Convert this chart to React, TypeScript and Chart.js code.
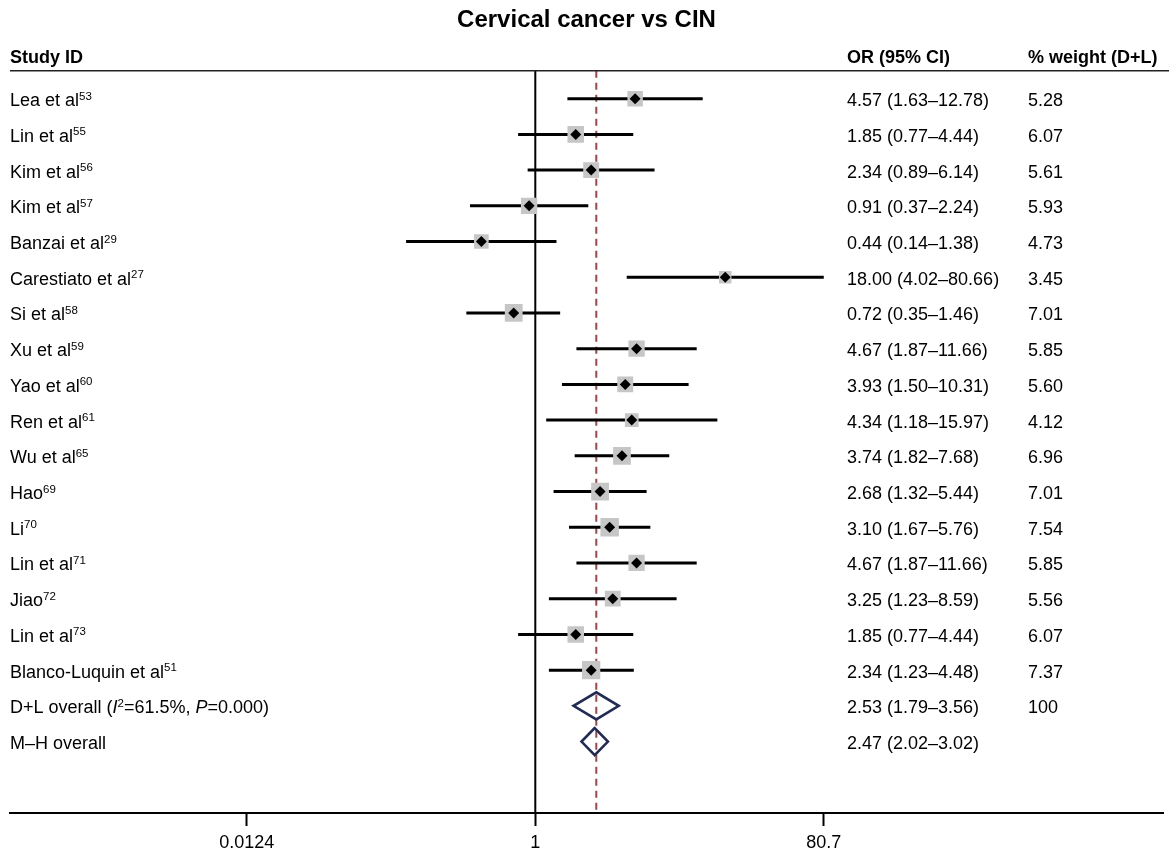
import React, { useEffect, useRef } from 'react';
import { Chart, registerables } from 'chart.js';

Chart.register(...registerables);

// ---------- data ----------
const studyNames = [
  'Lea et al', 'Lin et al', 'Kim et al', 'Kim et al', 'Banzai et al', 'Carestiato et al',
  'Si et al', 'Xu et al', 'Yao et al', 'Ren et al', 'Wu et al', 'Hao', 'Li', 'Lin et al',
  'Jiao', 'Lin et al', 'Blanco-Luquin et al',
];
const studyRefs = ['53', '55', '56', '57', '29', '27', '58', '59', '60', '61', '65', '69', '70', '71', '72', '73', '51'];
const oddsRatios = [4.57, 1.85, 2.34, 0.91, 0.44, 18.0, 0.72, 4.67, 3.93, 4.34, 3.74, 2.68, 3.1, 4.67, 3.25, 1.85, 2.34];
const ciLower = [1.63, 0.77, 0.89, 0.37, 0.14, 4.02, 0.35, 1.87, 1.5, 1.18, 1.82, 1.32, 1.67, 1.87, 1.23, 0.77, 1.23];
const ciUpper = [12.78, 4.44, 6.14, 2.24, 1.38, 80.66, 1.46, 11.66, 10.31, 15.97, 7.68, 5.44, 5.76, 11.66, 8.59, 4.44, 4.48];
const weights = [5.28, 6.07, 5.61, 5.93, 4.73, 3.45, 7.01, 5.85, 5.6, 4.12, 6.96, 7.01, 7.54, 5.85, 5.56, 6.07, 7.37];

const overallOR = [2.53, 2.47];
const overallLower = [1.79, 2.02];
const overallUpper = [3.56, 3.02];
const overallWeightText = ['100', ''];

const xTickValues = [0.0124, 1, 80.7];
const xTickLabels = ['0.0124', '1', '80.7'];
const nullValue = 1;

const titleText = 'Cervical cancer vs CIN';
const headerStudy = 'Study ID';
const headerOR = 'OR (95% CI)';
const headerWeight = '% weight (D+L)';

// ---------- layout / style constants ----------
const FONT = '"Liberation Sans", Arial, Helvetica, sans-serif';
const X_MIN = 3.373e-4;
const X_MAX = 14085;
const Y_MIN = -0.78;
const Y_MAX = 20;
const SQUARE_K = 4.75;
const DIAMOND_H = 0.38;
const COL_NAME = 10;
const COL_OR = 847;
const COL_W = 1028;

const fmt = (v: number) => v.toFixed(2);

type Part = { t: string; italic?: boolean; sup?: boolean; bold?: boolean };

function drawRich(ctx: CanvasRenderingContext2D, parts: Part[], x: number, y: number) {
  let cx = x;
  for (const p of parts) {
    const size = p.sup ? 11.5 : 18;
    ctx.font = `${p.italic ? 'italic ' : ''}${p.bold ? 'bold ' : ''}${size}px ${FONT}`;
    ctx.fillText(p.t, cx, y + (p.sup ? -6.5 : 0));
    cx += ctx.measureText(p.t).width;
  }
}

const textPlugin = {
  id: 'forestText',
  afterDraw(chart: any) {
    const { ctx, chartArea, scales } = chart;
    const y = scales.y;
    ctx.save();
    // header rule
    ctx.strokeStyle = '#222';
    ctx.lineWidth = 1.5;
    ctx.beginPath();
    ctx.moveTo(chartArea.left, chartArea.top);
    ctx.lineTo(chart.width, chartArea.top);
    ctx.stroke();

    ctx.fillStyle = '#000';
    ctx.textBaseline = 'alphabetic';
    ctx.textAlign = 'left';
    const hy = chartArea.top - 7.5;
    drawRich(ctx, [{ t: headerStudy, bold: true }], COL_NAME, hy);
    drawRich(ctx, [{ t: headerOR, bold: true }], COL_OR, hy);
    drawRich(ctx, [{ t: headerWeight, bold: true }], COL_W, hy);

    studyNames.forEach((name, i) => {
      const py = y.getPixelForValue(i) + 7.5;
      drawRich(ctx, [{ t: name }, { t: studyRefs[i], sup: true }], COL_NAME, py);
      drawRich(ctx, [{ t: `${fmt(oddsRatios[i])} (${fmt(ciLower[i])}–${fmt(ciUpper[i])})` }], COL_OR, py);
      drawRich(ctx, [{ t: fmt(weights[i]) }], COL_W, py);
    });

    const n = studyNames.length;
    const overallParts: Part[][] = [
      [{ t: 'D+L overall (' }, { t: 'I', italic: true }, { t: '2', sup: true }, { t: '=61.5%, ' }, { t: 'P', italic: true }, { t: '=0.000)' }],
      [{ t: 'M–H overall' }],
    ];
    overallOR.forEach((v, k) => {
      const py = y.getPixelForValue(n + k) + 7.5;
      drawRich(ctx, overallParts[k], COL_NAME, py);
      drawRich(ctx, [{ t: `${fmt(v)} (${fmt(overallLower[k])}–${fmt(overallUpper[k])})` }], COL_OR, py);
      if (overallWeightText[k]) drawRich(ctx, [{ t: overallWeightText[k] }], COL_W, py);
    });
    ctx.restore();
  },
};

export default function App() {
  const ref = useRef<HTMLCanvasElement>(null);
  useEffect(() => {
    document.body.style.margin = '0';
    document.body.style.overflow = 'hidden';
    const canvas = ref.current!;
    const n = studyNames.length;

    const markerData = oddsRatios.map((v, i) => ({ x: v, y: i }));
    const squareData = oddsRatios.map((v, i) => ({ x: v, y: i }));
    const ciData: { x: number; y: number }[] = [];
    oddsRatios.forEach((_, i) => {
      ciData.push({ x: ciLower[i], y: i }, { x: ciUpper[i], y: i }, { x: NaN, y: NaN });
    });
    const diamondData: { x: number; y: number }[] = [];
    overallOR.forEach((v, k) => {
      const r = n + k;
      diamondData.push(
        { x: overallLower[k], y: r },
        { x: v, y: r - DIAMOND_H },
        { x: overallUpper[k], y: r },
        { x: v, y: r + DIAMOND_H },
        { x: overallLower[k], y: r },
        { x: v, y: r - DIAMOND_H },
        { x: NaN, y: NaN },
      );
    });

    const chart = new Chart(canvas, {
      type: 'scatter',
      data: {
        datasets: [
          {
            data: markerData,
            pointStyle: 'rectRot',
            pointRadius: 5.5,
            pointBackgroundColor: '#000',
            pointBorderWidth: 0,
            showLine: false,
          } as any,
          {
            data: squareData,
            pointStyle: 'rect',
            pointRadius: (c: any) => SQUARE_K * Math.sqrt(weights[c.dataIndex]),
            pointBackgroundColor: '#c6c6c6',
            pointBorderWidth: 0,
            showLine: false,
          } as any,
          {
            data: ciData,
            showLine: true,
            borderColor: '#000',
            borderWidth: 3,
            pointRadius: 0,
            spanGaps: false,
            borderCapStyle: 'butt',
          } as any,
          {
            data: diamondData,
            showLine: true,
            borderColor: '#1f2b58',
            borderWidth: 2.6,
            pointRadius: 0,
            spanGaps: false,
            borderJoinStyle: 'miter',
          } as any,
          {
            data: [{ x: overallOR[0], y: Y_MIN }, { x: overallOR[0], y: Y_MAX }],
            showLine: true,
            borderColor: '#ad3f3f',
            borderWidth: 2,
            borderDash: [7, 5],
            pointRadius: 0,
          } as any,
          {
            data: [{ x: nullValue, y: Y_MIN }, { x: nullValue, y: Y_MAX }],
            showLine: true,
            borderColor: '#000',
            borderWidth: 2,
            pointRadius: 0,
          } as any,
        ],
      },
      options: {
        animation: false,
        responsive: false,
        layout: { autoPadding: false, padding: { left: 10, right: 6, top: 0, bottom: 0 } },
        plugins: {
          legend: { display: false },
          tooltip: { enabled: false },
          title: {
            display: true,
            text: titleText,
            color: '#000',
            font: { family: FONT, size: 24, weight: 'bold' },
            padding: { top: 6, bottom: 36 },
          },
        },
        scales: {
          x: {
            type: 'logarithmic',
            min: X_MIN,
            max: X_MAX,
            bounds: 'data',
            position: 'bottom',
            afterBuildTicks: (s: any) => {
              s.ticks = xTickValues.map((v) => ({ value: v }));
            },
            afterFit: (s: any) => {
              s.height = 36;
              s.paddingLeft = 0;
              s.paddingRight = 0;
            },
            ticks: {
              autoSkip: false,
              maxRotation: 0,
              padding: 6,
              color: '#000',
              font: { family: FONT, size: 18 },
              callback: (v: any) => {
                const idx = xTickValues.indexOf(Number(v));
                return idx >= 0 ? xTickLabels[idx] : '';
              },
            },
            grid: { drawOnChartArea: false, drawTicks: true, tickLength: 13, tickWidth: 2, tickColor: '#000' },
            border: { display: true, color: '#000', width: 2 },
          },
          y: { type: 'linear', display: false, reverse: true, min: Y_MIN, max: Y_MAX },
        },
      } as any,
      plugins: [textPlugin],
    });
    return () => chart.destroy();
  }, []);
  return (
    <div style={{ width: 1169, height: 849 }}>
      <canvas ref={ref} width={1169} height={849} style={{ width: 1169, height: 849, display: 'block' }} />
    </div>
  );
}
